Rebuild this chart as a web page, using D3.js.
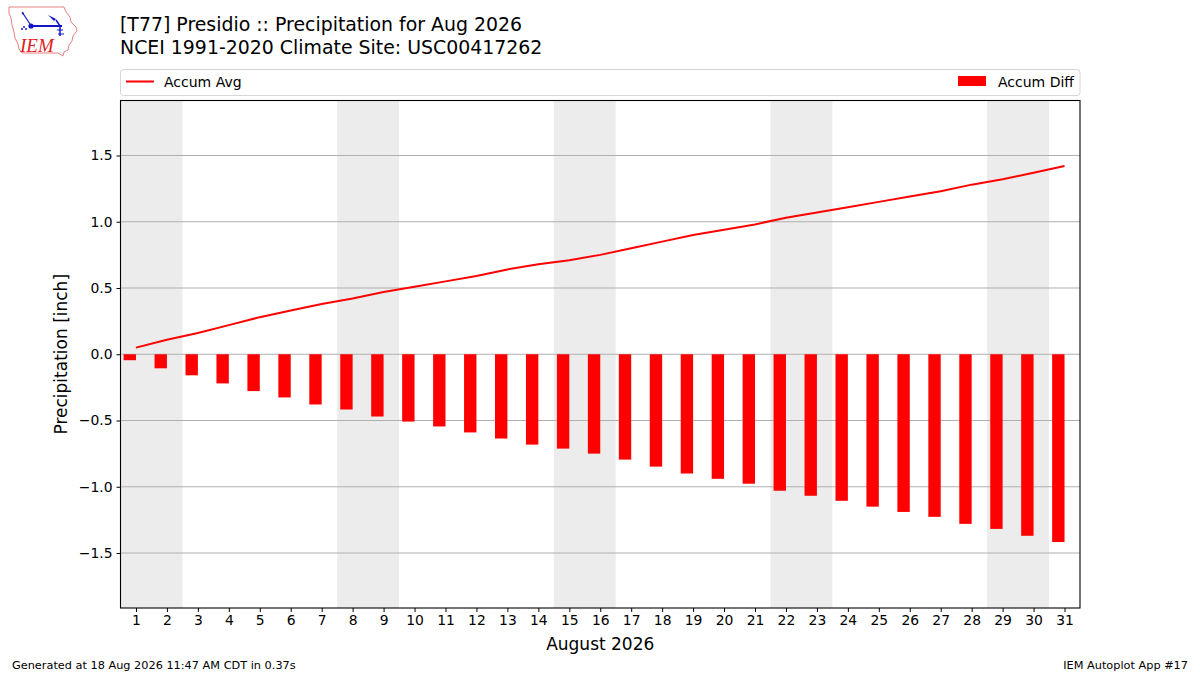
<!DOCTYPE html>
<html>
<head>
<meta charset="utf-8">
<script src="https://cdn.jsdelivr.net/npm/d3@7"></script>
<style>
  html, body { margin: 0; padding: 0; background: #fff; }
</style>
</head>
<body>
<svg id="chart" width="1200" height="675" font-family="DejaVu Sans, sans-serif"></svg>
<script>
// ---- data ----
const days = d3.range(1, 32);
const accumAvg = [0.05, 0.11, 0.16, 0.22, 0.28, 0.33, 0.38, 0.42, 0.47, 0.51,
                  0.55, 0.59, 0.64, 0.68, 0.71, 0.75, 0.80, 0.85, 0.90, 0.94,
                  0.98, 1.03, 1.07, 1.11, 1.15, 1.19, 1.23, 1.28, 1.32, 1.37, 1.42];
const accumDiff = [-0.045, -0.106, -0.159, -0.22, -0.278, -0.326, -0.379, -0.417, -0.47, -0.508,
                   -0.545, -0.59, -0.636, -0.682, -0.712, -0.75, -0.795, -0.848, -0.90, -0.94,
                   -0.977, -1.03, -1.068, -1.106, -1.15, -1.19, -1.227, -1.28, -1.318, -1.37, -1.417];
const weekendStarts = [1, 8, 15, 22, 29];
const yTicks = [-1.5, -1.0, -0.5, 0.0, 0.5, 1.0, 1.5];
const titleLines = ["[T77] Presidio :: Precipitation for Aug 2026", "NCEI 1991-2020 Climate Site: USC00417262"];
const legendLabels = ["Accum Avg", "Accum Diff"];

// ---- layout ----
const svg = d3.select("#chart");
const L = 120.5, R = 1080, T = 100.5, B = 608;
const x = d3.scaleLinear().domain([0.5, 31.5]).range([L, R]);
const y = d3.scaleLinear().domain([-1.915, 1.915]).range([B, T]);

// weekend shading
svg.append("g").selectAll("rect").data(weekendStarts).join("rect")
  .attr("x", d => x(d - 0.5)).attr("width", d => x(d + 1.5) - x(d - 0.5))
  .attr("y", T).attr("height", B - T).attr("fill", "#ececec");

// grid
svg.append("g").selectAll("line").data(yTicks).join("line")
  .attr("x1", L).attr("x2", R).attr("y1", d => y(d)).attr("y2", d => y(d))
  .attr("stroke", "#b0b0b0").attr("stroke-width", 1);

// bars
svg.append("g").selectAll("rect").data(days).join("rect")
  .attr("x", (d) => x(d - 0.4)).attr("width", (d) => x(d) - x(d - 0.4))
  .attr("y", (d, i) => Math.min(y(0), y(accumDiff[i])))
  .attr("height", (d, i) => Math.abs(y(accumDiff[i]) - y(0)))
  .attr("fill", "#ff0000");

// line
svg.append("path").datum(days)
  .attr("d", d3.line().x(d => x(d)).y((d, i) => y(accumAvg[i])))
  .attr("fill", "none").attr("stroke", "#ff0000").attr("stroke-width", 2);

// frame
svg.append("rect").attr("x", L).attr("y", T).attr("width", R - L).attr("height", B - T)
  .attr("fill", "none").attr("stroke", "#000").attr("stroke-width", 1.1);

// axes
const yAxis = svg.append("g").attr("transform", `translate(${L},0)`)
  .call(d3.axisLeft(y).tickValues(yTicks).tickFormat(d3.format(".1f")).tickSize(4).tickPadding(4));
const xAxis = svg.append("g").attr("transform", `translate(0,${B})`)
  .call(d3.axisBottom(x).tickValues(days).tickFormat(d3.format("d")).tickSize(4).tickPadding(3));
[yAxis, xAxis].forEach(a => {
  a.attr("font-family", "DejaVu Sans, sans-serif").attr("font-size", 13.9);
  a.select(".domain").remove();
  a.selectAll("text").attr("fill", "#000");
  a.selectAll("line").attr("stroke", "#000");
});
yAxis.selectAll("text").text(d => d.toFixed(1).replace("-", "\u2212"));

// axis labels
svg.append("text").attr("transform", `translate(67,${(T + B) / 2}) rotate(-90)`)
  .attr("text-anchor", "middle").attr("font-size", 17).text("Precipitation [inch]");
svg.append("text").attr("x", (L + R) / 2).attr("y", 650)
  .attr("text-anchor", "middle").attr("font-size", 17).text("August 2026");

// title
svg.append("text").attr("x", 120).attr("y", 31).attr("font-size", 18.9).text(titleLines[0]);
svg.append("text").attr("x", 120).attr("y", 54).attr("font-size", 18.9).text(titleLines[1]);

// legend
const lg = svg.append("g");
lg.append("rect").attr("x", 120.5).attr("y", 69.5).attr("width", 959.5).attr("height", 26)
  .attr("rx", 3).attr("fill", "#fff").attr("stroke", "#d6d6d6");
lg.append("line").attr("x1", 126).attr("x2", 154).attr("y1", 81.5).attr("y2", 81.5)
  .attr("stroke", "#ff0000").attr("stroke-width", 2);
lg.append("text").attr("x", 164).attr("y", 86.5).attr("font-size", 14).text(legendLabels[0]);
lg.append("rect").attr("x", 958).attr("y", 76).attr("width", 28).attr("height", 10).attr("fill", "#ff0000");
lg.append("text").attr("x", 1074).attr("y", 86.5).attr("text-anchor", "end").attr("font-size", 14).text(legendLabels[1]);

// footer
svg.append("text").attr("x", 12).attr("y", 669).attr("font-size", 11.3).text("Generated at 18 Aug 2026 11:47 AM CDT in 0.37s");
svg.append("text").attr("x", 1188).attr("y", 669).attr("text-anchor", "end").attr("font-size", 11.3).text("IEM Autoplot App #17");

// logo (simplified IEM logo)
const logo = svg.append("g");
logo.append("path")
  .attr("d", "M9,7 L64,7 L66,12 L70,17 L71,22 L76,27 L77,31 L73,36 L72,41 L69,45 L68,50 L64,52 L63,56 L58,53 L22,53 L19,49 L18,44 L15,38 L14,32 L12,25 L11,18 L9,13 Z")
  .attr("fill", "#fff").attr("stroke", "#e88080").attr("stroke-width", 1);
logo.append("line").attr("x1", 31).attr("x2", 62).attr("y1", 26).attr("y2", 26).attr("stroke", "#1515c8").attr("stroke-width", 2);
logo.append("circle").attr("cx", 31).attr("cy", 26).attr("r", 2.6).attr("fill", "#1515c8");
logo.append("path").attr("d", "M48,15 L56,19 L54,21 Z").attr("fill", "#1515c8");
logo.append("line").attr("x1", 56).attr("x2", 60).attr("y1", 20).attr("y2", 26).attr("stroke", "#1515c8").attr("stroke-width", 1.5);
logo.append("line").attr("x1", 60).attr("x2", 60).attr("y1", 26).attr("y2", 36).attr("stroke", "#1515c8").attr("stroke-width", 1.5);
logo.append("path").attr("d", "M57,30 L63,30 M58,34 L64,34").attr("stroke", "#1515c8").attr("stroke-width", 1.2);
logo.append("path").attr("d", "M22,12 L26,18 L30,24 M24,13 L22,14").attr("stroke", "#1515c8").attr("stroke-width", 1.2).attr("fill", "none");
logo.append("circle").attr("cx", 24).attr("cy", 27).attr("r", 1).attr("fill", "#1515c8");
logo.append("circle").attr("cx", 22).attr("cy", 29).attr("r", 1).attr("fill", "#1515c8");
logo.append("circle").attr("cx", 26).attr("cy", 29).attr("r", 1).attr("fill", "#1515c8");
logo.append("text").attr("x", 20).attr("y", 52).attr("font-family", "Liberation Serif, serif")
  .attr("font-style", "italic").attr("font-size", 19).attr("fill", "#e02020").text("IEM");
</script>
</body>
</html>
